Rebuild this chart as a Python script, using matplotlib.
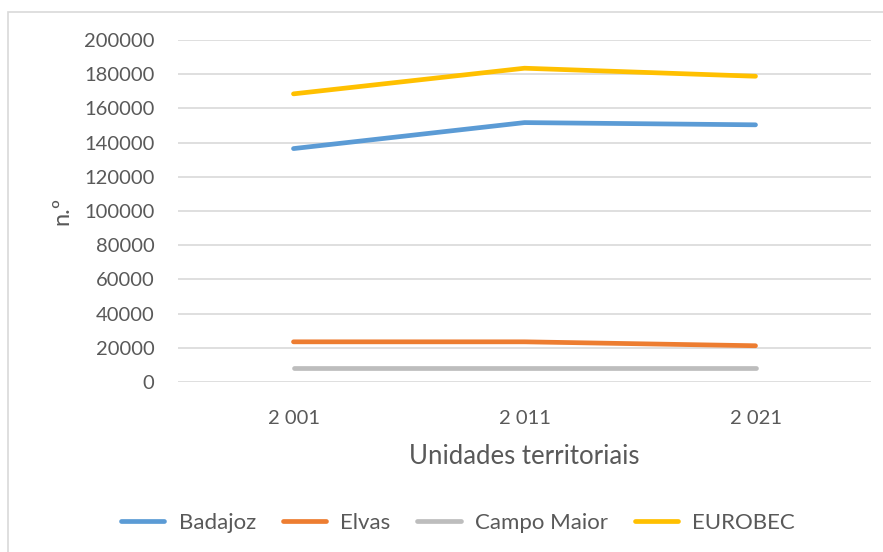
import matplotlib.pyplot as plt
from matplotlib.patches import Rectangle

anos = ['2 001', '2 011', '2 021']
badajoz = [136500, 151700, 150400]
elvas = [23500, 23500, 21200]
campo_maior = [8300, 8300, 8300]
eurobec = [168500, 183500, 178800]

series = [
    ('Badajoz', badajoz, '#5B9BD5'),
    ('Elvas', elvas, '#ED7D31'),
    ('Campo Maior', campo_maior, '#BDBDBD'),
    ('EUROBEC', eurobec, '#FFC000'),
]

txt = '#595959'
plt.rcParams['font.family'] = ['Lato', 'DejaVu Sans']

fig = plt.figure(figsize=(8.83, 5.52), dpi=100)
ax = fig.add_axes([178 / 883, 170 / 552, 693 / 883, 342 / 552])

x = range(len(anos))
for nome, vals, cor in series:
    ax.plot(x, vals, color=cor, lw=3.4, solid_capstyle='round', label=nome)

ax.set_xlim(-0.5, 2.5)
ax.set_ylim(0, 200000)
ax.set_yticks(range(0, 200001, 20000))
ax.set_xticks(list(x))
ax.set_xticklabels(anos)
ax.yaxis.grid(True, color='#D9D9D9', lw=1.2)
ax.set_axisbelow(True)
for s in ax.spines.values():
    s.set_visible(False)
ax.tick_params(axis='both', length=0, labelcolor=txt, labelsize=14.5)
ax.tick_params(axis='y', pad=17)
ax.tick_params(axis='x', pad=20)

ax.set_xlabel('Unidades territoriais', color=txt, fontsize=18.5, va='center')
ax.xaxis.set_label_coords(0.5, -0.219)
ax.set_ylabel('n.º', color=txt, fontsize=17, va='center')
ax.yaxis.set_label_coords(-0.167, 0.5)

leg = fig.legend(loc='center', bbox_to_anchor=(458 / 883, 29 / 552), ncol=4,
                 frameon=False, fontsize=16, handlelength=1.95,
                 handletextpad=0.65, columnspacing=1.2)
for t in leg.get_texts():
    t.set_color(txt)

# borda da área do gráfico
fig.patches.append(Rectangle((8 / 883, -0.5), 2, 540 / 552 + 0.5, fill=False,
                             ec='#D9D9D9', lw=1.2, transform=fig.transFigure))

fig.savefig('out.png', dpi=100)
